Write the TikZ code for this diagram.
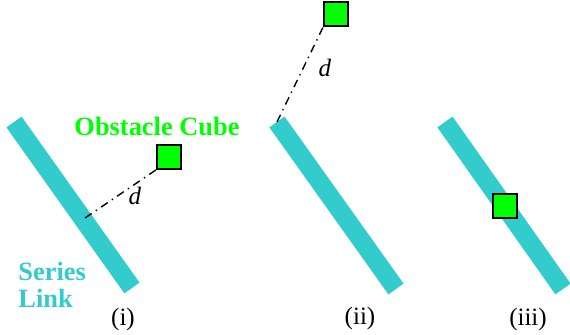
\documentclass[tikz,border=0pt]{standalone}
\usepackage{fontspec}
\setmainfont{Liberation Serif}
\usepackage{tikz}
\usetikzlibrary{calc}
\definecolor{linkcyan}{RGB}{51,204,204}
\definecolor{cubegreen}{RGB}{0,255,0}

\begin{document}
\begin{tikzpicture}[x=0.5pt, y=-0.5pt,
  link/.style={linkcyan, line width=9.3pt},
  cube/.style={draw=black, fill=cubegreen, line width=0.65pt, minimum size=12pt, inner sep=0pt},
  dist/.style={black, line width=0.7pt, dash pattern=on 4pt off 2.5pt on 0.7pt off 2.5pt},
  lbl/.style={font=\fontsize{12.5}{14}\selectfont},
  tag/.style={font=\fontsize{13.2}{13.5}\selectfont\bfseries}]
  \useasboundingbox (0,0) rectangle (570,335);

  % Series links
  \coordinate (barAtop) at (14,122);  \coordinate (barAbot) at (132,288);
  \coordinate (barBtop) at (277,122); \coordinate (barBbot) at (396,289);
  \coordinate (barCtop) at (445,122); \coordinate (barCbot) at (563,289);
  \draw[link] (barAtop) -- (barAbot);
  \draw[link] (barBtop) -- (barBbot);
  \draw[link] (barCtop) -- (barCbot);

  % Obstacle cubes
  \node[cube] (cubeA) at (169,157) {};
  \node[cube] (cubeB) at (336,14) {};
  \node[cube] (cubeC) at (505,206) {};

  % Distances
  \coordinate (footA) at (85,218);
  \draw[dist] (footA) -- (cubeA.south west);
  \draw[dist] (barBtop) -- (cubeB.south west);
  \node[lbl] (dA) at (135,196) {\textit{d}};
  \node[lbl] (dB) at (325,68) {\textit{d}};

  % Labels
  \node[tag, cubegreen] (obst) at (157,127) {Obstacle Cube};
  \node[tag, linkcyan, align=left, anchor=west, inner sep=0pt] (link) at (18,285) {Series\\Link};
  \node[lbl] (capA) at (123,319) {(i)};
  \node[lbl] (capB) at (360,318) {(ii)};
  \node[lbl] (capC) at (528,319) {(iii)};
\end{tikzpicture}
\end{document}
